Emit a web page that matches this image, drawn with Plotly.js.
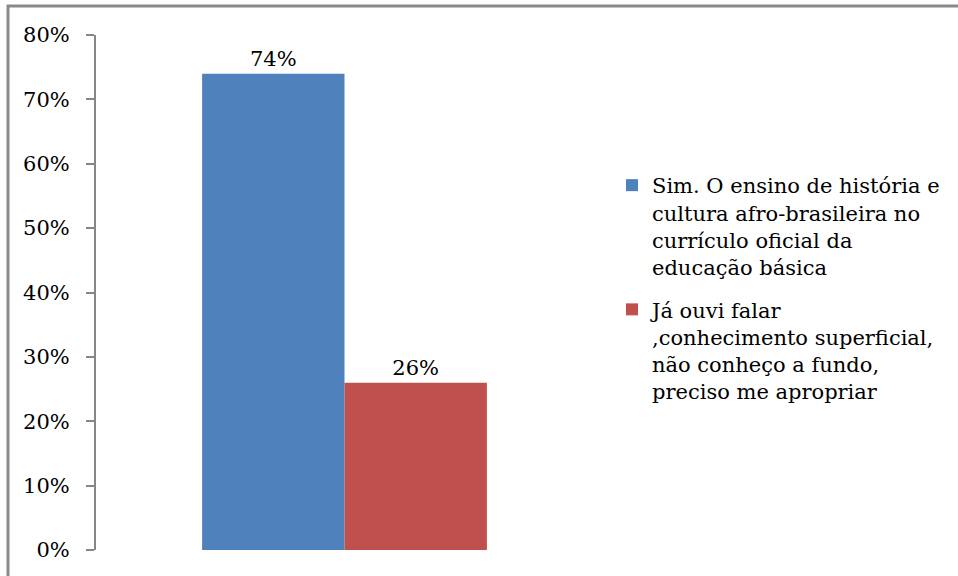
<!DOCTYPE html>
<html>
<head>
<meta charset="utf-8">
<script src="https://cdn.plot.ly/plotly-3.0.1.min.js"></script>
<style>
html,body{margin:0;padding:0;background:#fff;overflow:hidden;}
#chart{width:958px;height:576px;}
</style>
</head>
<body>
<div id="chart"></div>
<script>
const seriesNames = [
  "Sim. O ensino de história e<br>cultura afro-brasileira no<br>currículo oficial da<br>educação básica",
  "Já ouvi falar<br>,conhecimento superficial,<br>não conheço a fundo,<br>preciso me apropriar"
];
const seriesValues = [0.74, 0.26];
const seriesColors = ["#4F81BD", "#C0504D"];
const category = [0];

const font = "DejaVu Serif";

const traces = seriesNames.map((name, i) => ({
  type: "bar",
  name: name,
  legendgroup: "g" + i,
  x: category,
  y: [seriesValues[i]],
  marker: {color: seriesColors[i], line: {width: 0}},
  text: [seriesValues[i]],
  texttemplate: "%{y:.0%}",
  textposition: "outside",
  cliponaxis: false,
  textfont: {family: font, size: 21, color: "#000"},
  hoverinfo: "none"
}));

const L = 96, T = 35, W = 497, H = 515;
const layout = {
  width: 958, height: 576,
  font: {family: font},
  margin: {l: L, t: T, r: 958 - L - W, b: 576 - T - H, pad: 0, autoexpand: false},
  paper_bgcolor: "#fff", plot_bgcolor: "#fff",
  barmode: "group", bargap: 0.427, bargroupgap: 0,
  showlegend: true,
  xaxis: {range: [-0.5, 0.5], visible: false, fixedrange: true},
  yaxis: {
    range: [0, 0.8], dtick: 0.1, tick0: 0, tickformat: ".0%",
    showgrid: false, zeroline: false,
    showline: true, linecolor: "#868686", linewidth: 2,
    ticks: "outside", ticklen: 8, tickwidth: 2, tickcolor: "#868686",
    ticklabelstandoff: 12,
    tickfont: {family: font, size: 21, color: "#000"},
    fixedrange: true
  },
  legend: {
    x: (612 - L) / W, y: (550 - 165) / H, xanchor: "left", yanchor: "top",
    font: {family: font, size: 21, color: "#000"},
    valign: "top", tracegroupgap: 12, itemwidth: 30,
    bgcolor: "rgba(0,0,0,0)", borderwidth: 0
  },
  shapes: [{
    type: "rect", xref: "paper", yref: "paper",
    x0: (8 - L) / W, x1: (970 - L) / W,
    y0: (T + H - 590) / H, y1: (T + H - 6) / H,
    line: {color: "#8a8a8a", width: 3}, fillcolor: "rgba(0,0,0,0)", layer: "below"
  }]
};

Plotly.newPlot("chart", traces, layout, {displayModeBar: false, staticPlot: true});
</script>
</body>
</html>
